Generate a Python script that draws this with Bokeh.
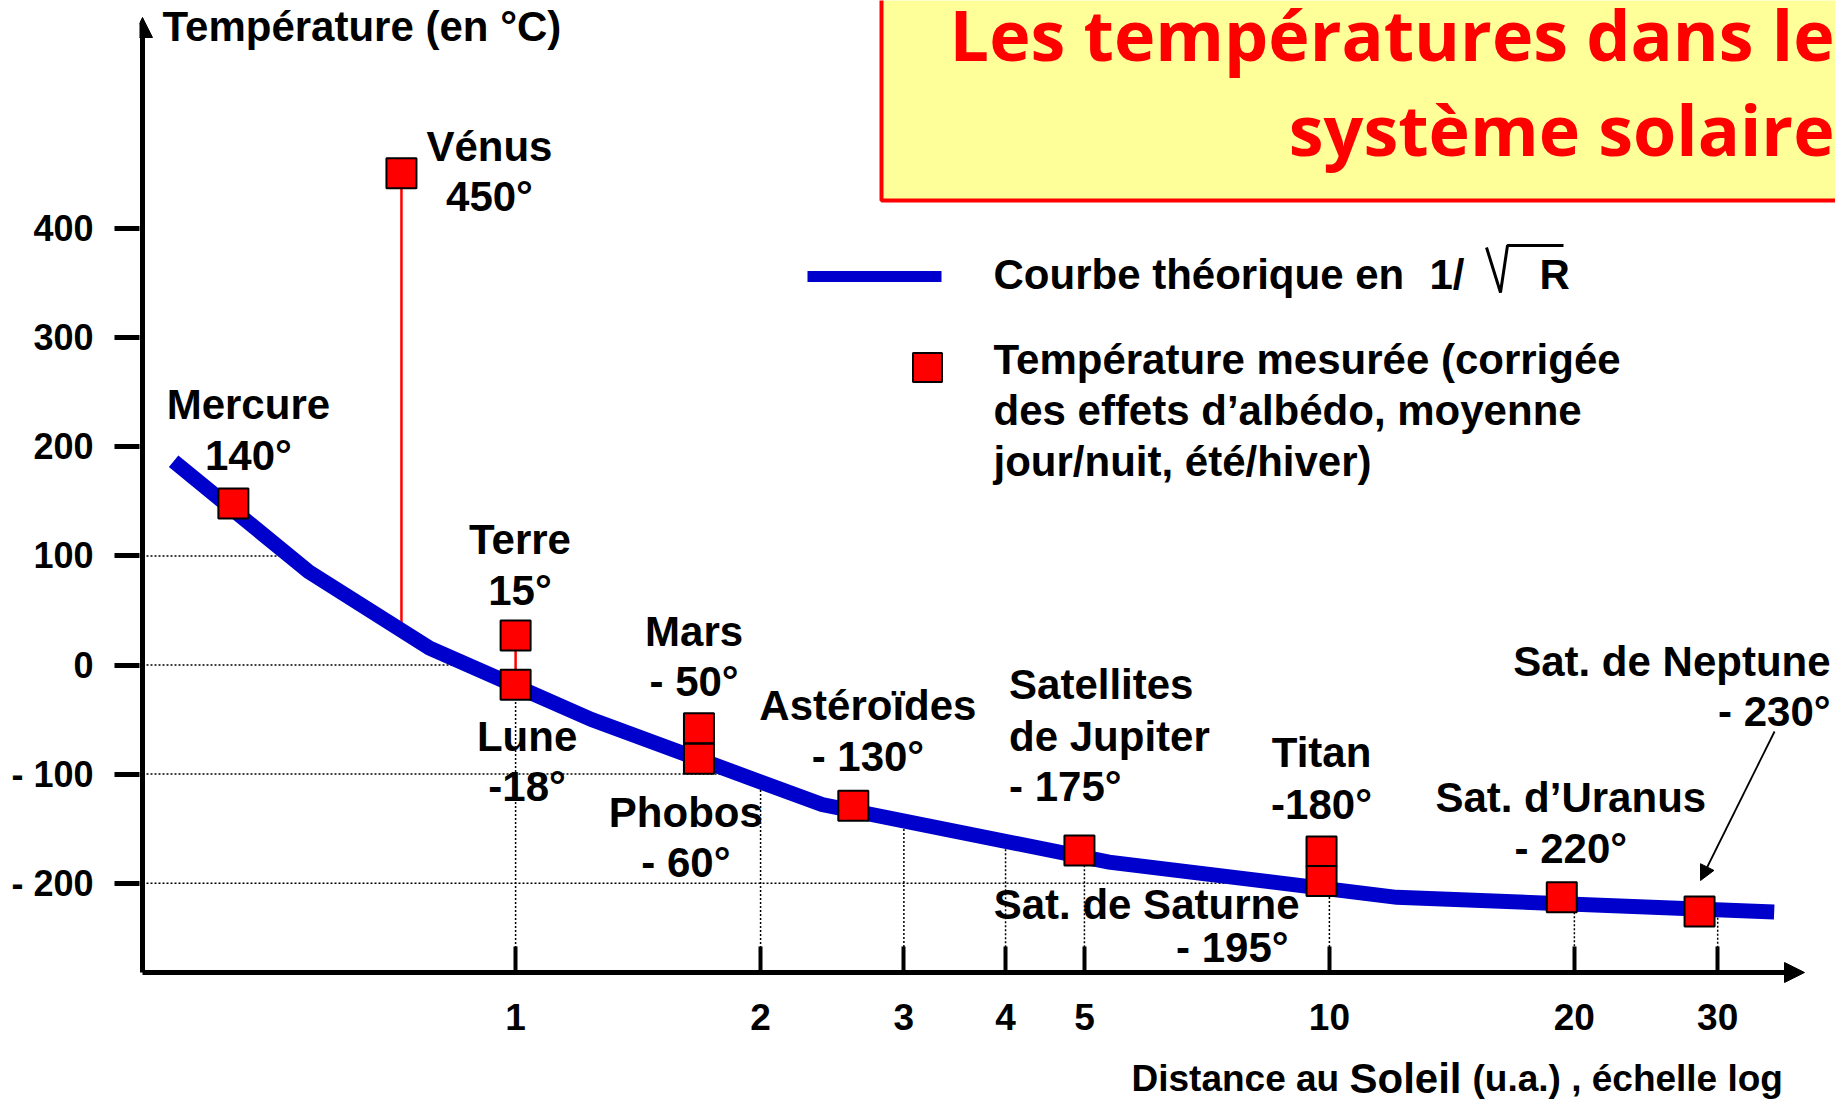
import numpy as np
from bokeh.plotting import figure
from bokeh.models import (Range1d, FixedTicker, CustomJSTickFormatter, PrintfTickFormatter,
                          Arrow, NormalHead, Label)
from bokeh.core.properties import value
from bokeh.embed import file_html
from bokeh.resources import INLINE

# ---------------- data ----------------
objets = ["Mercure", "Vénus", "Terre", "Lune", "Mars", "Phobos", "Astéroïdes",
          "Satellites de Jupiter", "Titan", "Sat. de Saturne", "Sat. d’Uranus", "Sat. de Neptune"]
distance_ua = [0.45, 0.724, 1.0, 1.0, 1.68, 1.68, 2.60, 4.93, 9.78, 9.78, 19.3, 28.5]
temp_tracee = [148, 451, 27, -18, -58, -86, -129, -170, -171, -198, -213, -226]
temp_texte = ["140°", "450°", "15°", "-18°", "- 50°", "- 60°", "- 130°", "- 175°",
              "-180°", "- 195°", "- 220°", "- 230°"]

courbe_r = [0.380, 0.557, 0.784, 1.24, 2.38, 5.36, 12.1, 35.2]
courbe_t = [186.8, 85.5, 15.5, -50.0, -128.0, -180.7, -213.0, -226.5]
venus_theorique = 35

x_ticks = [1, 2, 3, 4, 5, 10, 20, 30]
y_ticks = [-200, -100, 0, 100, 200, 300, 400]
niveaux_pointilles = [100, 0, -100, -200]

# ---------------- style / layout ----------------
BLEU = "#0000CC"
ROUGE = "#FF0000"
JAUNE = "#FFFF99"
POLICE = "Liberation Sans"
TITRE_POLICE = "Open Sans"

X_PX_1UA = 515.1        # page px of 1 AU
PX_PAR_DECADE = 813.8
Y_PX_100 = 555.46       # page px of 100 °C
PX_PAR_DEGRE = 1.09061
W, H = 1835, 1103
CADRE_G, CADRE_D, CADRE_H, CADRE_B = 139, W, 0, H


def px2x(px):
    return 10 ** ((px - X_PX_1UA) / PX_PAR_DECADE)


def px2y(py):
    return 100 + (Y_PX_100 - py) / PX_PAR_DEGRE


def decale_x(x, dx):
    return x * 10 ** (dx / PX_PAR_DECADE)


def decale_y(y, dy):
    return y - dy / PX_PAR_DEGRE


p = figure(width=W, height=H, x_axis_type="log",
           x_range=Range1d(px2x(CADRE_G), px2x(CADRE_D)),
           y_range=Range1d(px2y(CADRE_B), px2y(CADRE_H)),
           output_backend="svg", toolbar_location=None,
           min_border_left=CADRE_G, min_border_right=0,
           min_border_top=0, min_border_bottom=0)
p.grid.visible = False
p.outline_line_color = None
p.background_fill_color = "white"
p.border_fill_color = "white"

axe_x_y = px2y(972)
axe_y_x = px2x(142)

# axes
xa = p.xaxis[0]
xa.fixed_location = px2y(974)
xa.ticker = FixedTicker(ticks=x_ticks, minor_ticks=[])
xa.formatter = PrintfTickFormatter(format="%d")
xa.axis_line_color = None
xa.major_tick_in = 28
xa.major_tick_out = 0
xa.major_tick_line_width = 4
xa.minor_tick_line_color = None
xa.major_label_standoff = 29
xa.major_label_text_font = POLICE
xa.major_label_text_font_style = "bold"
xa.major_label_text_font_size = "37px"
xa.major_label_text_color = "black"

ya = p.yaxis[0]
ya.ticker = FixedTicker(ticks=y_ticks, minor_ticks=[])
ya.formatter = CustomJSTickFormatter(code="return tick < 0 ? '- ' + Math.abs(tick) : tick.toString();")
ya.axis_line_color = None
ya.major_tick_in = 0
ya.major_tick_out = 25
ya.major_tick_line_width = 5
ya.minor_tick_line_color = None
ya.major_label_standoff = 21
ya.major_label_text_font = POLICE
ya.major_label_text_font_style = "bold"
ya.major_label_text_font_size = "36px"
ya.major_label_text_color = "black"

# title box (clipped by the frame on top/right)
p.quad(left=[px2x(881)], right=[px2x(CADRE_D + 200)], bottom=[px2y(200)], top=[px2y(-200)],
       fill_color=JAUNE, line_color=ROUGE, line_width=4)

# dotted reference lines
log_r = np.log10(courbe_r)
haut_chute = [float(np.interp(np.log10(t), log_r, courbe_t)) for t in x_ticks]
p.segment(x0=x_ticks, y0=haut_chute, x1=x_ticks, y1=[axe_x_y] * len(x_ticks),
          line_color="black", line_width=1.5, line_dash="2 2")
fin_h = [10 ** float(np.interp(n, courbe_t[::-1], log_r[::-1])) for n in niveaux_pointilles]
p.segment(x0=[axe_y_x] * len(niveaux_pointilles), y0=niveaux_pointilles, x1=fin_h,
          y1=niveaux_pointilles, line_color="black", line_width=1.5, line_dash="2 2")

# red stems (measured vs theory)
p.segment(x0=[distance_ua[1], distance_ua[2]], y0=[temp_tracee[1], temp_tracee[2]],
          x1=[distance_ua[1], distance_ua[3]], y1=[venus_theorique, temp_tracee[3]],
          line_color=ROUGE, line_width=2.5)

# theoretical curve
p.line(courbe_r, courbe_t, line_color=BLEU, line_width=15, line_join="miter")

# measured points
p.scatter(distance_ua, temp_tracee, marker="square", size=30, fill_color=ROUGE,
          line_color="black", line_width=2)

# axis lines with arrows
p.add_layout(Arrow(end=NormalHead(size=20, fill_color="black", line_color="black"),
                   x_start=axe_y_x, y_start=axe_x_y, x_end=px2x(1804), y_end=axe_x_y,
                   line_width=5, line_color="black"))
p.add_layout(Arrow(end=NormalHead(size=20, fill_color="black", line_color="black"),
                   x_start=axe_y_x, y_start=axe_x_y, x_end=axe_y_x, y_end=px2y(17),
                   line_width=5, line_color="black"))

# point labels: (object index, lines, dx px, dy px per line, align)
etiquettes = [
    (0, ["Mercure", temp_texte[0]], 15, [-98.8, -48.2], "center"),
    (1, ["Vénus", temp_texte[1]], 88, [-27, 23.6], "center"),
    (2, ["Terre", temp_texte[2]], 4.4, [-95.6, -45.1], "center"),
    (3, ["Lune", temp_texte[3]], 11.5, [51.6, 102.1], "center"),
    (4, ["Mars", temp_texte[4]], -4.9, [-97, -46.5], "center"),
    (5, ["Phobos", temp_texte[5]], -13.1, [53.5, 104], "center"),
    (6, ["Astéroïdes", temp_texte[6]], 14.6, [-100.1, -49.5], "center"),
    (7, ["Satellites", "de Jupiter", temp_texte[7]], -70.4, [-165.8, -114.1, -63.6], "left"),
    (8, ["Titan", temp_texte[8]], 0, [-98.7, -47], "center"),
    (9, ["Sat. de Saturne"], -327.8, [23.5], "left"),
    (9, [temp_texte[9]], -89.2, [67], "center"),
    (10, ["Sat. d’Uranus", temp_texte[10]], 9, [-99.7, -49.2], "center"),
    (11, ["Sat. de Neptune", temp_texte[11]], 131, [-250.3, -199.8], "right"),
]
groupes = {"left": ([], [], []), "center": ([], [], []), "right": ([], [], [])}
for i, lignes, dx, dys, al in etiquettes:
    for ligne, dy in zip(lignes, dys):
        gx, gy, gt = groupes[al]
        gx.append(decale_x(distance_ua[i], dx))
        gy.append(decale_y(temp_tracee[i], dy))
        gt.append(ligne)
for al, (gx, gy, gt) in groupes.items():
    p.text(x=gx, y=gy, text=gt, text_align=al, text_baseline="middle",
           text_font=value(POLICE), text_font_style="bold", text_font_size="42px",
           text_color="black")

# Neptune pointer
i_nep = 11
p.add_layout(Arrow(end=NormalHead(size=15, fill_color="black", line_color="black"),
                   x_start=decale_x(distance_ua[i_nep], 75), y_start=decale_y(temp_tracee[i_nep], -180),
                   x_end=decale_x(distance_ua[i_nep], 1), y_end=decale_y(temp_tracee[i_nep], -31),
                   line_width=1.8, line_color="black"))

# y-axis title
p.text(x=[px2x(162)], y=[px2y(26)], text=["Température (en °C)"], text_align="left",
       text_baseline="middle", text_font=value(POLICE), text_font_style="bold",
       text_font_size="42px", text_color="black")

# chart title
p.text(x=[px2x(1834), px2x(1834)], y=[px2y(33), px2y(128)],
       text=["Les températures dans le", "système solaire"], text_align="right",
       text_baseline="middle", text_font=value(TITRE_POLICE), text_font_style="bold",
       text_font_size="70px", text_color=ROUGE)

# legend
p.line(x=[px2x(807), px2x(941)], y=[px2y(276), px2y(276)], line_color=BLEU, line_width=11)
p.scatter(x=[px2x(927)], y=[px2y(367)], marker="square", size=29, fill_color=ROUGE,
          line_color="black", line_width=2)
leg_x = [px2x(993)] * 4
leg_y = [px2y(274), px2y(358.5), px2y(410), px2y(461)]
leg_t = ["Courbe théorique en", "Température mesurée (corrigée",
         "des effets d’albédo, moyenne", "jour/nuit, été/hiver)"]
p.text(x=leg_x, y=leg_y, text=leg_t, text_align="left", text_baseline="middle",
       text_font=value(POLICE), text_font_style="bold", text_font_size="42px", text_color="black")
p.text(x=[px2x(1429), px2x(1539)], y=[px2y(274), px2y(274)], text=["1/", "R"],
       text_align="left", text_baseline="middle", text_font=value(POLICE),
       text_font_style="bold", text_font_size="42px", text_color="black")
p.line(x=[px2x(1486), px2x(1500), px2x(1507), px2x(1563)],
       y=[px2y(247), px2y(292), px2y(245), px2y(245)], line_color="black", line_width=3)

# x-axis title (mixed sizes)
for px, txt, taille in [(1131, "Distance au", "37px"), (1349, "Soleil", "42px"),
                        (1472, "(u.a.) , échelle log", "37px")]:
    p.add_layout(Label(x=px2x(px), y=px2y(1078), text=txt, text_align="left",
                       text_baseline="middle", text_font=POLICE, text_font_style="bold",
                       text_font_size=taille, text_color="black"))

open("out.html", "w").write(file_html(p, INLINE))
